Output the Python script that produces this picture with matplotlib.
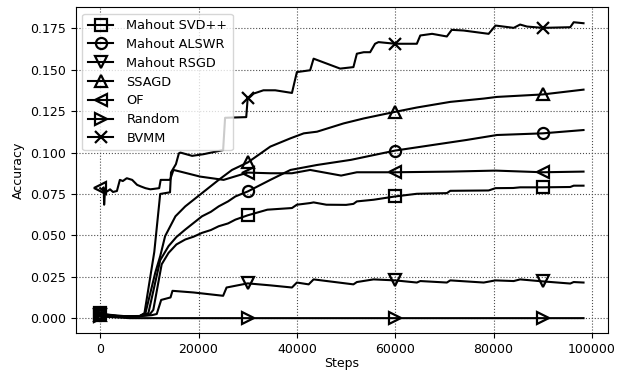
import matplotlib
matplotlib.use("Agg")
import matplotlib.pyplot as plt
import numpy as np

plt.rcParams.update({"font.family": "DejaVu Sans", "font.size": 9})

# values (steps, accuracy)
svd_x = [0, 2000, 5000, 8000, 10000, 10800, 12500, 13900, 15500, 17300, 19000, 20700, 22500, 24100,
         26000, 27500, 30000, 34000, 39000, 40000, 42700, 43400, 46000, 50000, 51500, 52200, 55600,
         60000, 64400, 70500, 71200, 79000, 80400, 84000, 85400, 90000, 95600, 96300, 98300]
svd_y = [0.003, 0.002, 0.0012, 0.0013, 0.002, 0.005, 0.0325, 0.0394, 0.0445, 0.0475, 0.0492, 0.0515, 0.0532,
         0.0555, 0.0572, 0.0595, 0.0621, 0.0655, 0.0665, 0.0685, 0.0695, 0.0699, 0.0685, 0.0684, 0.069,
         0.0705, 0.0715, 0.0735, 0.0751, 0.0755, 0.0769, 0.0771, 0.0785, 0.0786, 0.079, 0.079, 0.0792,
         0.08, 0.08]

als_x = [0, 2000, 5000, 8000, 9800, 12200, 13900, 15500, 17300, 19000, 20700, 22500, 24100, 26000,
         27500, 30000, 34600, 38700, 44100, 51000, 60000, 67700, 74500, 80700, 90000, 98300]
als_y = [0.002, 0.0015, 0.001, 0.0012, 0.003, 0.035, 0.0435, 0.049, 0.0535, 0.0575, 0.0615, 0.0642,
         0.0675, 0.0705, 0.0735, 0.0765, 0.0835, 0.0895, 0.0925, 0.0956, 0.1012, 0.1046, 0.1076, 0.1106,
         0.1116, 0.1136]

rsgd_x = [0, 2000, 5000, 8000, 10500, 11500, 12400, 14300, 14700, 19000, 25000, 25700, 30000,
          34600, 39000, 40000, 42400, 43400, 51500, 52200, 55600, 60000, 64400, 65100, 70500,
          71200, 78000, 80400, 84100, 85400, 90000, 95600, 96300, 98300]
rsgd_y = [0.002, 0.0015, 0.001, 0.0012, 0.0018, 0.0025, 0.011, 0.0125, 0.0165, 0.0155, 0.0135, 0.0185, 0.021,
          0.0198, 0.0185, 0.0215, 0.0204, 0.0234, 0.0204, 0.0218, 0.0234, 0.0228, 0.0215, 0.0224, 0.0215,
          0.0228, 0.0215, 0.0228, 0.0224, 0.0234, 0.0222, 0.0209, 0.0218, 0.0215]

ssagd_x = [0, 2000, 5000, 8000, 9200, 11200, 12200, 13200, 15300, 17300, 20700, 24100, 26800,
           30000, 34600, 38700, 41400, 44100, 49500, 53600, 60000, 64400, 71200, 78000, 80700,
           90000, 98300]
ssagd_y = [0.002, 0.0015, 0.001, 0.0012, 0.003, 0.0275, 0.0374, 0.0495, 0.0615, 0.0675, 0.0755, 0.0835, 0.0895,
           0.094, 0.1036, 0.1086, 0.1116, 0.1126, 0.1176, 0.1206, 0.1246, 0.1272, 0.1306, 0.1326, 0.1336,
           0.1351, 0.138]

of_x = [0, 400, 700, 800, 1000, 1400, 2000, 2600, 3400, 4000, 4600, 5400, 6500, 7500, 8300,
        9200, 10200, 11000, 12000, 12300, 14200, 14900, 16300, 20300, 25100, 30000, 34600,
        39000, 42700, 49000, 52200, 60000, 71200, 80400, 90000, 98300]
of_y = [0.0785, 0.0775, 0.079, 0.0685, 0.078, 0.0765, 0.0778, 0.0762, 0.0768, 0.0835, 0.0828, 0.0845,
        0.0835, 0.0805, 0.0795, 0.0785, 0.0778, 0.0781, 0.0785, 0.0835, 0.0835, 0.0895, 0.0885, 0.0855,
        0.0835, 0.0879, 0.0875, 0.0875, 0.0895, 0.0861, 0.0881, 0.0881, 0.0885, 0.0891, 0.0881, 0.0885]

rand_x = [0, 3000, 6000, 30000, 60000, 90000, 98300]
rand_y = [0.001, 0.0005, 0.0, 0.0, 0.0, 0.0, 0.0]

bvmm_x = [0, 2000, 5000, 8000, 9000, 11000, 12200, 14200, 14400, 15400, 16000, 16300, 18700,
          21000, 25000, 25400, 29700, 30000, 30500, 31200, 33200, 35600, 39000, 40000, 42700,
          43400, 48800, 51500, 52200, 53600, 54900, 55900, 56600, 60000, 64400, 65100, 67500,
          70500, 71500, 73900, 79000, 80400, 84100, 85400, 86800, 90000, 95600, 96300, 98300]
bvmm_y = [0.002, 0.0015, 0.001, 0.0012, 0.003, 0.04, 0.075, 0.076, 0.088, 0.093, 0.0995, 0.1, 0.098,
          0.099, 0.1015, 0.121, 0.1214, 0.133, 0.1336, 0.1356, 0.1376, 0.1376, 0.136, 0.1486, 0.1497,
          0.1567, 0.1507, 0.1516, 0.1597, 0.1606, 0.1606, 0.1657, 0.1667, 0.1657, 0.1657, 0.1707, 0.1717,
          0.1701, 0.1741, 0.1737, 0.1717, 0.1767, 0.1753, 0.1773, 0.1761, 0.1753, 0.1757, 0.1787, 0.1781]

series = [
    ("Mahout SVD++", svd_x, svd_y, "s"),
    ("Mahout ALSWR", als_x, als_y, "o"),
    ("Mahout RSGD", rsgd_x, rsgd_y, "v"),
    ("SSAGD", ssagd_x, ssagd_y, "^"),
    ("OF", of_x, of_y, "<"),
    ("Random", rand_x, rand_y, ">"),
    ("BVMM", bvmm_x, bvmm_y, "x"),
]
mark_steps = [0, 30000, 60000, 90000]

fig = plt.figure(figsize=(6.39, 3.72), dpi=100)
ax = fig.add_axes([0.119, 0.105, 0.832, 0.875])

for name, xs, ys, m in series:
    idx = [xs.index(s) for s in mark_steps]
    ax.plot(xs, ys, color="black", linewidth=1.5, marker=m, markevery=idx,
            markersize=8, markerfacecolor="none", markeredgecolor="black",
            markeredgewidth=1.6, label=name)

ax.set_xlabel("Steps", labelpad=1)
ax.set_ylabel("Accuracy")
ax.set_xticks([0, 20000, 40000, 60000, 80000, 100000])
ax.set_yticks(np.arange(0, 0.176, 0.025))
ax.grid(linestyle=":", color="0.3", linewidth=0.8)
ax.legend(loc="upper left", fontsize=9.3, handletextpad=1.0, labelspacing=0.45)

fig.savefig("out.png", dpi=100)
